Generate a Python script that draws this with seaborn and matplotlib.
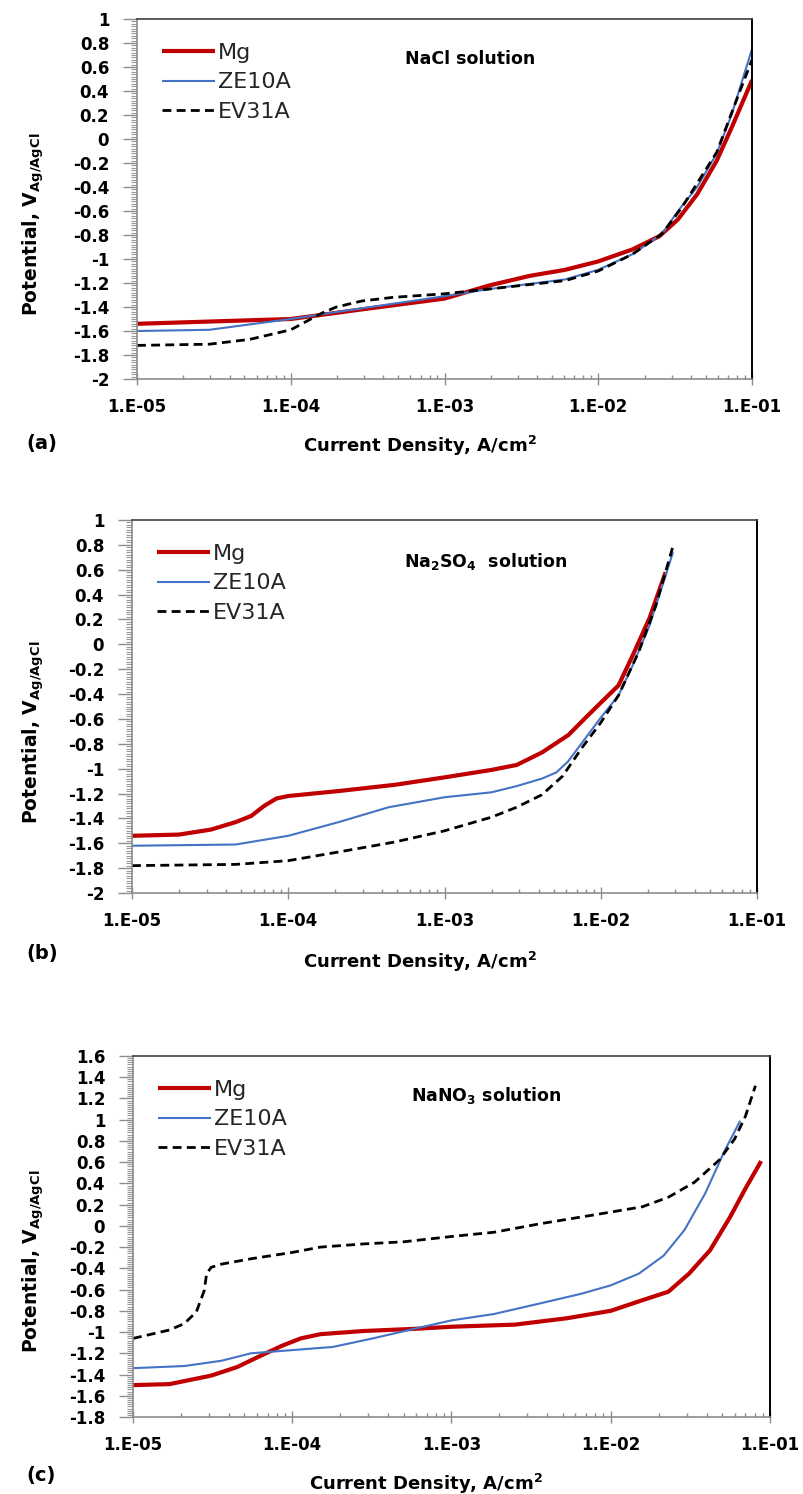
import numpy as np
import pandas as pd
import matplotlib
matplotlib.use("Agg")
import matplotlib.pyplot as plt
import seaborn as sns
from matplotlib.ticker import FixedLocator, MultipleLocator, FuncFormatter, LogLocator, NullFormatter

# ---------------- data ----------------
# Panel (a): NaCl solution
a_mg_i = [1e-5, 1e-4, 2.9e-4, 1e-3, 1.96e-3, 3.6e-3, 6.1e-3, 1e-2, 1.67e-2, 2.5e-2, 3.3e-2, 4.4e-2, 5.9e-2, 7.4e-2, 1e-1]
a_mg_v = [-1.54, -1.50, -1.42, -1.33, -1.22, -1.14, -1.09, -1.02, -0.92, -0.81, -0.67, -0.46, -0.18, 0.10, 0.49]
a_ze_i = [1e-5, 2.95e-5, 1e-4, 1.8e-4, 1e-3, 1.96e-3, 6.1e-3, 1e-2, 1.67e-2, 2.6e-2, 3.3e-2, 4.4e-2, 5.9e-2, 7.4e-2, 1e-1]
a_ze_v = [-1.60, -1.59, -1.50, -1.45, -1.31, -1.25, -1.17, -1.09, -0.96, -0.79, -0.60, -0.40, -0.12, 0.21, 0.75]
a_ev_i = [1e-5, 2.95e-5, 5.4e-5, 1e-4, 1.6e-4, 1.98e-4, 2.9e-4, 4.6e-4, 1e-3, 1.96e-3, 6.1e-3, 1e-2, 1.67e-2, 2.6e-2, 3.5e-2, 5.9e-2, 7.9e-2, 1e-1]
a_ev_v = [-1.72, -1.71, -1.67, -1.59, -1.45, -1.40, -1.35, -1.32, -1.29, -1.25, -1.18, -1.10, -0.96, -0.79, -0.57, -0.11, 0.32, 0.66]

# Panel (b): Na2SO4 solution
b_mg_i = [1e-5, 2e-5, 3.2e-5, 4.6e-5, 5.8e-5, 7e-5, 8.4e-5, 1e-4, 2.1e-4, 4.8e-4, 1e-3, 2e-3, 2.9e-3, 4.2e-3, 6.2e-3, 8.3e-3, 1e-2, 1.3e-2, 1.6e-2, 2.05e-2, 2.6e-2]
b_mg_v = [-1.54, -1.53, -1.49, -1.43, -1.38, -1.30, -1.24, -1.22, -1.18, -1.13, -1.07, -1.01, -0.97, -0.87, -0.73, -0.57, -0.47, -0.33, -0.09, 0.21, 0.58]
b_ze_i = [1e-5, 4.6e-5, 1e-4, 2.1e-4, 4.4e-4, 1e-3, 2e-3, 2.9e-3, 4.2e-3, 5.2e-3, 6.2e-3, 7.2e-3, 1e-2, 1.3e-2, 1.6e-2, 2.05e-2, 2.9e-2]
b_ze_v = [-1.62, -1.61, -1.54, -1.43, -1.31, -1.23, -1.19, -1.14, -1.08, -1.03, -0.94, -0.83, -0.59, -0.41, -0.17, 0.15, 0.74]
b_ev_i = [1e-5, 4.6e-5, 1e-4, 2.1e-4, 4.8e-4, 1e-3, 2e-3, 2.9e-3, 4.2e-3, 5.7e-3, 7.6e-3, 1e-2, 1.3e-2, 1.75e-2, 2.25e-2, 2.9e-2]
b_ev_v = [-1.78, -1.77, -1.74, -1.67, -1.59, -1.50, -1.39, -1.31, -1.21, -1.06, -0.83, -0.63, -0.41, -0.06, 0.31, 0.79]

# Panel (c): NaNO3 solution
c_mg_i = [1e-5, 1.7e-5, 3.1e-5, 4.5e-5, 6.4e-5, 8.6e-5, 1.13e-4, 1.5e-4, 2.8e-4, 5.8e-4, 1e-3, 2.5e-3, 5.3e-3, 1e-2, 1.58e-2, 2.3e-2, 3.1e-2, 4.2e-2, 5.6e-2, 7e-2, 8.8e-2]
c_mg_v = [-1.50, -1.49, -1.41, -1.33, -1.22, -1.13, -1.06, -1.02, -0.99, -0.97, -0.95, -0.93, -0.87, -0.80, -0.70, -0.62, -0.45, -0.23, 0.08, 0.35, 0.61]
c_ze_i = [1e-5, 2.1e-5, 3.6e-5, 5.5e-5, 1e-4, 1.8e-4, 3.2e-4, 5.8e-4, 1e-3, 1.85e-3, 3.6e-3, 6.5e-3, 1e-2, 1.5e-2, 2.15e-2, 2.9e-2, 3.9e-2, 5.2e-2, 6.5e-2]
c_ze_v = [-1.34, -1.32, -1.27, -1.20, -1.17, -1.14, -1.06, -0.97, -0.89, -0.83, -0.73, -0.64, -0.56, -0.45, -0.28, -0.04, 0.30, 0.71, 0.99]
c_ev_i = [1e-5, 1.7e-5, 2.1e-5, 2.5e-5, 2.8e-5, 2.9e-5, 3.1e-5, 3.6e-5, 5.5e-5, 1e-4, 1.5e-4, 2.8e-4, 5e-4, 1e-3, 1.85e-3, 3.6e-3, 7.6e-3, 1.58e-2, 2.3e-2, 3.35e-2, 4.8e-2, 6e-2, 7e-2, 8.1e-2]
c_ev_v = [-1.06, -0.98, -0.92, -0.81, -0.61, -0.45, -0.39, -0.36, -0.31, -0.25, -0.20, -0.17, -0.15, -0.10, -0.06, 0.02, 0.10, 0.18, 0.27, 0.41, 0.62, 0.82, 1.03, 1.32]

series_names = ["Mg", "ZE10A", "EV31A"]
panel_labels = ["(a)", "(b)", "(c)"]
panel_titles = ["NaCl solution",
                r"Na$_\mathbf{2}$SO$_\mathbf{4}$  solution",
                r"NaNO$_\mathbf{3}$ solution"]
x_tick_values = [1e-5, 1e-4, 1e-3, 1e-2, 1e-1]
x_tick_labels = ["1.E-05", "1.E-04", "1.E-03", "1.E-02", "1.E-01"]
ylims = [(-2, 1), (-2, 1), (-1.8, 1.6)]
xlabel_text = "Current Density, A/cm$^\\mathbf{2}$"
ylabel_text = r"Potential, V$_\mathbf{Ag/AgCl}$"

panels = [
    [(a_mg_i, a_mg_v), (a_ze_i, a_ze_v), (a_ev_i, a_ev_v)],
    [(b_mg_i, b_mg_v), (b_ze_i, b_ze_v), (b_ev_i, b_ev_v)],
    [(c_mg_i, c_mg_v), (c_ze_i, c_ze_v), (c_ev_i, c_ev_v)],
]

# ---------------- style ----------------
sns.set_theme(style="ticks")
plt.rcParams["font.family"] = ["DejaVu Sans"]
plt.rcParams["axes.unicode_minus"] = False
plt.rcParams["mathtext.fontset"] = "dejavusans"

colors = {"Mg": "#C00000", "ZE10A": "#4472C4", "EV31A": "#000000"}
widths = {"Mg": 3.0, "ZE10A": 1.5, "EV31A": 2.0}
dashes = {"Mg": "", "ZE10A": "", "EV31A": (3.2, 1.9)}

W, H = 804, 1494
fig = plt.figure(figsize=(W / 100, H / 100), dpi=100)

# axes boxes in pixels: left, right, top, bottom
boxes = [(137, 752, 19, 379), (132, 757, 520, 893), (133, 770, 1056, 1417)]
label_y_px = [443, 953, 1475]

for k, (l, r, t, b) in enumerate(boxes):
    ax = fig.add_axes([l / W, 1 - b / H, (r - l) / W, (b - t) / H])
    rows = []
    for name, (xi, yv) in zip(series_names, panels[k]):
        for xv, vv in zip(xi, yv):
            rows.append({"current": xv, "potential": vv, "alloy": name})
    df = pd.DataFrame(rows)
    sns.lineplot(data=df, x="current", y="potential", hue="alloy", style="alloy",
                 hue_order=series_names, style_order=series_names,
                 palette=colors, dashes=dashes, sort=False, estimator=None,
                 ax=ax, legend=False)
    for line, name in zip(ax.get_lines(), series_names):
        line.set_linewidth(widths[name])
        line.set_solid_capstyle("butt")
        line.set_dash_capstyle("butt")
        line.set_solid_joinstyle("round")

    ax.set_xscale("log")
    ax.set_xlim(1e-5, 1e-1)
    ax.set_ylim(*ylims[k])

    # x ticks
    ax.xaxis.set_major_locator(FixedLocator(x_tick_values))
    ax.set_xticklabels(x_tick_labels)
    ax.xaxis.set_minor_locator(LogLocator(base=10, subs=np.arange(2, 10)))
    ax.xaxis.set_minor_formatter(NullFormatter())
    ax.tick_params(axis="x", which="major", direction="inout", length=8, width=1,
                   color="#8c8c8c", pad=10, labelsize=12)
    ax.tick_params(axis="x", which="minor", direction="in", length=3, width=1,
                   color="#8c8c8c")

    # y ticks
    ax.yaxis.set_major_locator(MultipleLocator(0.2))
    ax.yaxis.set_minor_locator(MultipleLocator(0.02))
    ax.yaxis.set_major_formatter(FuncFormatter(lambda v, p: f"{round(v, 2) + 0:g}"))
    ax.tick_params(axis="y", which="major", direction="out", length=10, width=1,
                   color="#8c8c8c", pad=10, labelsize=12)
    ax.tick_params(axis="y", which="minor", direction="out", length=4.5, width=0.8,
                   color="#9a9a9a")
    for lab in ax.get_xticklabels() + ax.get_yticklabels():
        lab.set_fontweight("bold")
        lab.set_color("black")

    for s in ["left", "bottom"]:
        ax.spines[s].set_color("#8c8c8c")
        ax.spines[s].set_linewidth(1.2)
    ax.spines["top"].set_color("#404040")
    ax.spines["right"].set_color("#000000")
    ax.spines["top"].set_linewidth(1.2)
    ax.spines["right"].set_linewidth(1.4)

    ax.set_xlabel(xlabel_text, fontsize=13, fontweight="bold", color="black")
    ax.xaxis.set_label_coords(0.46, -0.152)
    ax.xaxis.label.set_va("top")
    ax.set_ylabel(ylabel_text, fontsize=13.5, fontweight="bold", color="black")
    ax.yaxis.set_label_coords((46 - l) / (r - l), 0.43)

    # legend
    handles = ax.get_lines()[:3]
    ax.legend(handles, series_names, loc="upper left",
              bbox_to_anchor=(25 / (r - l), 1 - 24 / (b - t)),
              frameon=False, fontsize=16, handlelength=2.4, handletextpad=0.12,
              borderpad=0, borderaxespad=0, labelspacing=0.42)

    ax.text(0.436, 0.89, panel_titles[k], transform=ax.transAxes, fontsize=12.5,
            fontweight="bold", ha="left", va="center", color="black")

    fig.text(26 / W, 1 - label_y_px[k] / H, panel_labels[k], fontsize=14,
             fontweight="bold", ha="left", va="center", color="black")

fig.savefig("out.png", dpi=100, facecolor="white")
